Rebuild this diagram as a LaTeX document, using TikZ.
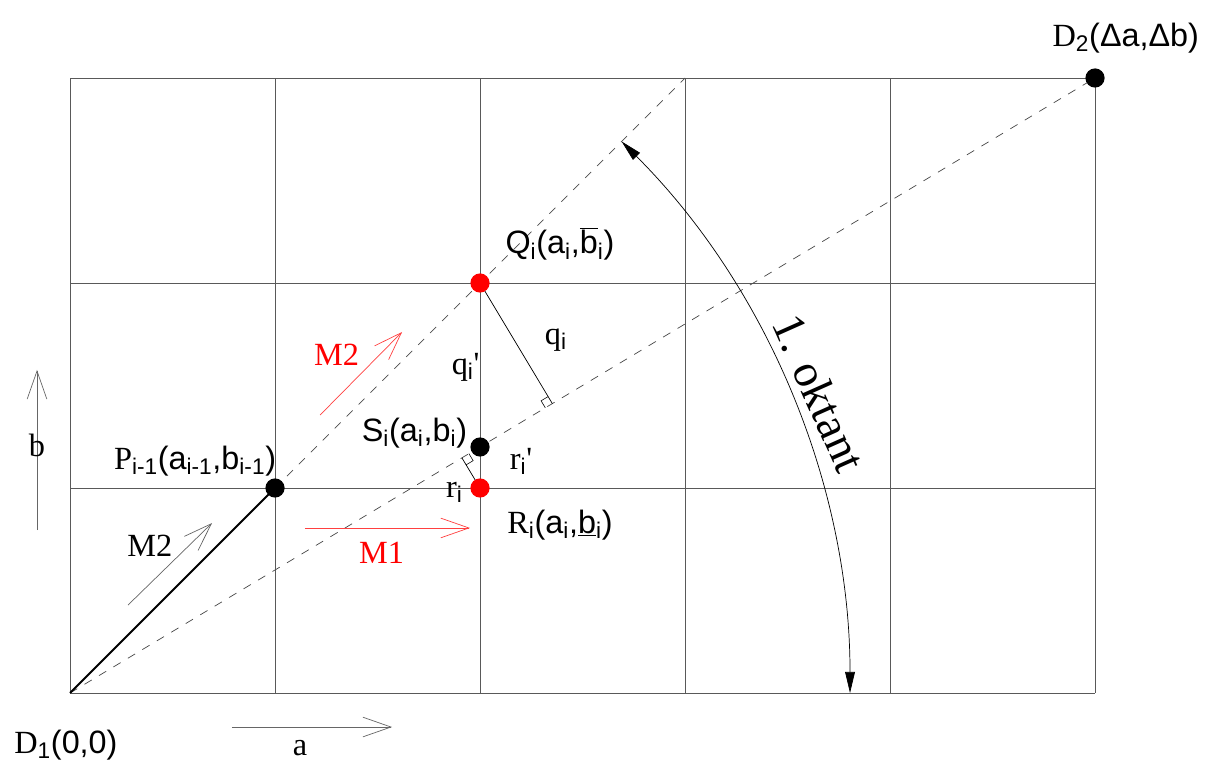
\documentclass[tikz,border=0pt]{standalone}
\usepackage{fontspec}
\setmainfont{Liberation Serif}
\newfontfamily\crdfont{Liberation Sans}
\usetikzlibrary{arrows.meta,calc}

\begin{document}
\begin{tikzpicture}[x=5.125cm, y=5.125cm,
    grid/.style={black!65, line width=0.6pt},
    guide/.style={black!70, line width=0.5pt, dash pattern=on 6pt off 6pt},
    dir/.style={-{Straight Barb[length=20pt, width=14pt]}, black!60, line width=0.5pt},
    reddir/.style={dir, red!75},
    dot/.style={circle, fill=black, inner sep=0pt, minimum size=0.48cm},
    reddot/.style={dot, fill=red},
    lbl/.style={font=\fontsize{23}{26}\selectfont, inner sep=1pt}]
    \useasboundingbox (-0.3415,-0.3707) rectangle (5.6683,3.3805);

    % Coordinates
    \coordinate (D1) at (0,0);
    \coordinate (D2) at (5,3);
    \coordinate (P) at (1,1);
    \coordinate (Q) at (2,2);
    \coordinate (R) at (2,1);
    \coordinate (S) at (2,1.2);
    \coordinate (T) at (3,3);
    \coordinate (Fq) at ($(D1)!(Q)!(D2)$);
    \coordinate (Fr) at ($(D1)!(R)!(D2)$);

    % Grid
    \foreach \i in {0,...,5}
        \draw[grid] (\i,0) -- (\i,3);
    \foreach \j in {0,...,3}
        \draw[grid] (0,\j) -- (5,\j);

    % Dashed lines from D1
    \draw[guide] (D1) -- (D2);
    \draw[guide] (P) -- (T);
    \draw[line width=1.3pt] (D1) -- (P);

    % Distances q and r with right angle marks
    \draw[line width=0.5pt] (Q) -- (Fq);
    \draw[line width=0.5pt] (R) -- (Fr);
    \draw[line width=0.4pt] ($(Fq)+(120.96:0.04)$) -- ++(210.96:0.04) -- ++(-59.04:0.04);
    \draw[line width=0.4pt] ($(Fr)+(-59.04:0.04)$) -- ++(30.96:0.04) -- ++(120.96:0.04);

    % First octant
    \draw[line width=0.5pt, {Triangle[length=15pt, width=7pt]}-{Triangle[length=15pt, width=7pt]}]
        ($(D1)+(45:3.805)$) arc[start angle=45, end angle=0, radius=3.805];
    \node[lbl, font=\fontsize{33}{38}\selectfont, rotate=-66] (okt) at (3.655,1.465) {1. oktant};

    % Points
    \node[dot] (dP) at (P) {};
    \node[dot] (dS) at (S) {};
    \node[dot] (dD2) at (D2) {};
    \node[reddot] (dQ) at (Q) {};
    \node[reddot] (dR) at (R) {};

    % Axis arrows
    \coordinate (bs) at (-0.161,0.795);
    \coordinate (be) at (-0.161,1.576);
    \coordinate (as) at (0.790,-0.166);
    \coordinate (ae) at (1.571,-0.166);
    \draw[dir] (bs) -- (be);
    \draw[dir] (as) -- (ae);
    \node[lbl] (lb) at (-0.161,1.21) {b};
    \node[lbl] (la) at (1.122,-0.27) {a};

    % Steps M1 and M2
    \coordinate (m2s) at (0.283,0.429);
    \coordinate (m2e) at (0.693,0.829);
    \coordinate (rm2s) at (1.220,1.356);
    \coordinate (rm2e) at (1.620,1.761);
    \coordinate (rm1s) at (1.146,0.805);
    \coordinate (rm1e) at (1.951,0.805);
    \draw[dir] (m2s) -- (m2e);
    \draw[reddir] (rm2s) -- (rm2e);
    \draw[reddir] (rm1s) -- (rm1e);
    \node[lbl] (lm2) at (0.39,0.72) {M2};
    \node[lbl, text=red] (lrm2) at (1.30,1.65) {M2};
    \node[lbl, text=red] (lrm1) at (1.52,0.685) {M1};

    % Labels
    \node[lbl] (lD1) at (-0.02,-0.255) {D\textsubscript{\crdfont 1}\crdfont(0,0)};
    \node[lbl] (lD2) at (5.15,3.195) {D\textsubscript{\crdfont 2}\crdfont(Δa,Δb)};
    \node[lbl] (lP) at (0.61,1.13) {P\textsubscript{\crdfont i-1}\crdfont(a\textsubscript{i-1},b\textsubscript{i-1})};
    \node[lbl] (lQ) at (2.39,2.19) {\crdfont Q\textsubscript{i}(a\textsubscript{i},$\overline{\mbox{\crdfont b}}$\textsubscript{i})};
    \node[lbl] (lS) at (1.68,1.27) {\crdfont S\textsubscript{i}(a\textsubscript{i},b\textsubscript{i})};
    \node[lbl] (lR) at (2.39,0.82) {R\textsubscript{\crdfont i}\crdfont(a\textsubscript{i},\underline{b}\textsubscript{i})};
    \node[lbl] (lq) at (2.37,1.72) {q\textsubscript{\crdfont i}};
    \node[lbl] (lqq) at (1.93,1.59) {q\textsubscript{\crdfont i}\textquotesingle};
    \node[lbl] (lr) at (1.875,0.98) {r\textsubscript{\crdfont i}};
    \node[lbl] (lrr) at (2.20,1.13) {r\textsubscript{\crdfont i}\textquotesingle};
\end{tikzpicture}
\end{document}
